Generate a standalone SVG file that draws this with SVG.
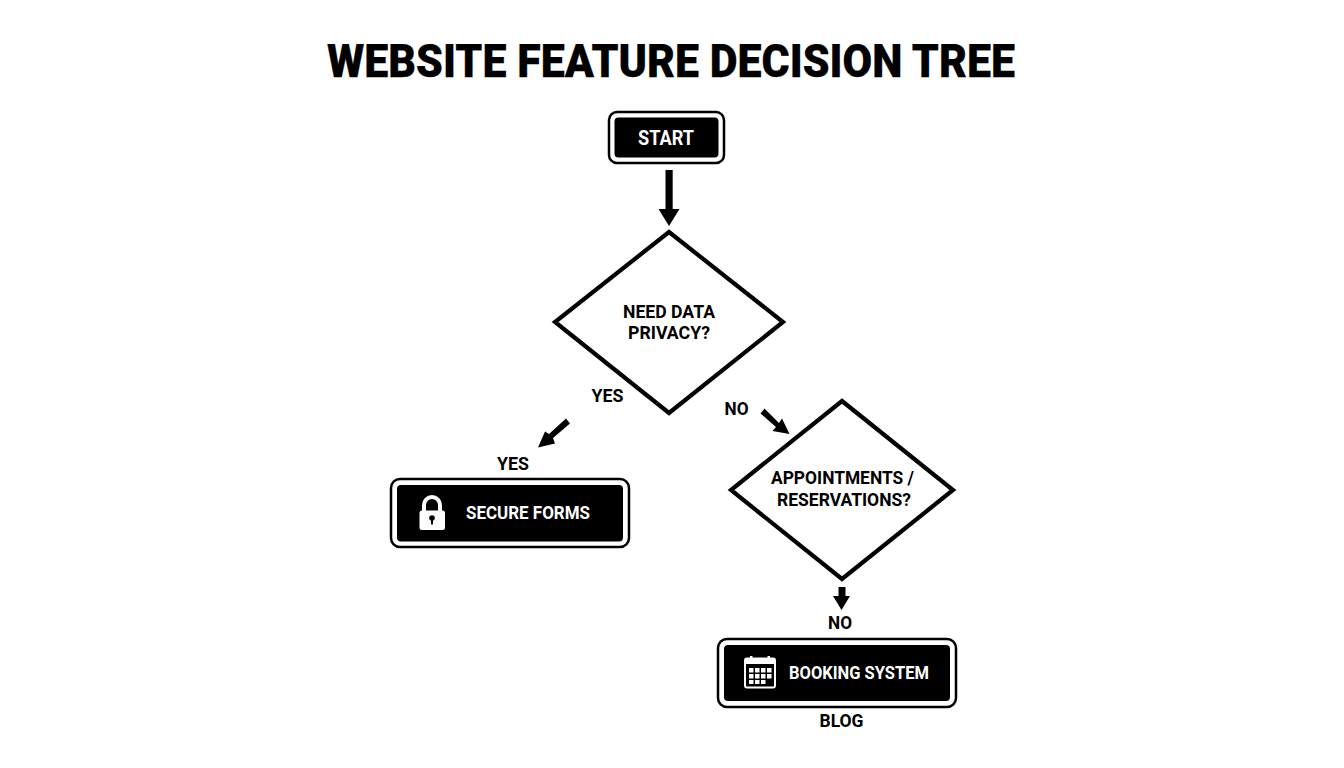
<svg xmlns="http://www.w3.org/2000/svg" width="1344" height="768" viewBox="0 0 1344 768">
<style>
text{font-family:Roboto,"Liberation Sans",sans-serif;font-weight:700;text-anchor:middle;fill:#000}
.t{font-size:46px;font-weight:900;stroke:#000;stroke-width:.25px}
.l{font-size:18.500px}
.w{fill:#fff;font-size:19px}
.o{fill:#fff;stroke:#000;stroke-width:2.500}
.d{fill:#fff;stroke:#000;stroke-width:4.200;stroke-linejoin:miter}
.c{fill:#000}
</style>
<rect width="1344" height="768" fill="#fff"/>
<text class="t" x="671" y="76.500" textLength="688" lengthAdjust="spacingAndGlyphs">WEBSITE FEATURE DECISION TREE</text>
<g id="connectors">
<path class="c" d="M665.500 170H672.700V209H679.500L669 226L658.500 209H665.500Z"/>
<path class="c" d="M566 418.500L570 423.500L553 438L555 443.500L538 447.500L545 431.500L549 434Z"/>
<path class="c" d="M764.500 408.500L760.500 413.500L776 427L772.500 431L789.500 434L782 418.500L779 423Z"/>
<path class="c" d="M838.500 587H845.500V596H850L841.500 610L833 596H838.500Z"/>
</g>
<g id="start">
<rect class="o" x="609" y="112" width="115" height="51" rx="8"/>
<rect x="614.500" y="117.500" width="104" height="40" rx="4"/>
<text class="w" x="666" y="144.500" style="font-size:20.500px" textLength="56" lengthAdjust="spacingAndGlyphs">START</text>
</g>
<g id="privacy">
<path class="d" d="M669 232L783 322L669 413L555 322Z"/>
<text class="l" x="669" y="317.800" textLength="92" lengthAdjust="spacingAndGlyphs">NEED DATA</text>
<text class="l" x="669" y="338.800" textLength="82" lengthAdjust="spacingAndGlyphs">PRIVACY?</text>
</g>
<g id="appointments">
<path class="d" d="M842 401L953 490L842 579L731 490Z"/>
<text class="l" x="842.500" y="483.800" textLength="143" lengthAdjust="spacingAndGlyphs">APPOINTMENTS /</text>
<text class="l" x="844" y="505.800" textLength="134" lengthAdjust="spacingAndGlyphs">RESERVATIONS?</text>
</g>
<g id="secure">
<rect class="o" x="391" y="479" width="238" height="68" rx="9"/>
<rect x="397" y="485" width="226" height="56.500" rx="4"/>
<path d="M424 511V505a8 8 0 0 1 16 0V511" fill="none" stroke="#fff" stroke-width="4"/>
<rect x="419.500" y="510.500" width="25.500" height="19.500" rx="2.500" fill="#fff"/>
<circle cx="432" cy="518" r="2.800" fill="#000"/>
<rect x="431" y="518" width="2" height="6.500" fill="#000"/>
<text class="w" x="528" y="518.800" textLength="124" lengthAdjust="spacingAndGlyphs">SECURE FORMS</text>
</g>
<g id="booking">
<rect class="o" x="718" y="639" width="238" height="68" rx="9"/>
<rect x="724" y="645" width="226" height="56" rx="4"/>
<rect x="745" y="658.500" width="30" height="29" rx="2" fill="none" stroke="#fff" stroke-width="2"/>
<rect x="745" y="658" width="30" height="6" fill="#fff"/>
<rect x="750" y="656" width="2.500" height="5" fill="#fff"/><rect x="767.500" y="656" width="2.500" height="5" fill="#fff"/>
<path d="M749 668h4.500v4.500h-4.500zM755 668h4.500v4.500h-4.500zM761 668h4.500v4.500h-4.500zM767 668h4.500v4.500h-4.500zM749 674h4.500v4.500h-4.500zM755 674h4.500v4.500h-4.500zM761 674h4.500v4.500h-4.500zM767 674h4.500v4.500h-4.500zM749 680h4.500v4h-4.500zM755 680h4.500v4h-4.500zM761 680h4.500v4h-4.500z" fill="#fff"/>
<text class="w" x="859" y="678.800" textLength="140" lengthAdjust="spacingAndGlyphs">BOOKING SYSTEM</text>
</g>
<g id="labels">
<text class="l" x="607.500" y="402.300" textLength="32" lengthAdjust="spacingAndGlyphs">YES</text>
<text class="l" x="736.500" y="414.500" textLength="24" lengthAdjust="spacingAndGlyphs">NO</text>
<text class="l" x="513" y="470.300" textLength="32" lengthAdjust="spacingAndGlyphs">YES</text>
<text class="l" x="840" y="629.300" textLength="24" lengthAdjust="spacingAndGlyphs">NO</text>
<text class="l" x="841.500" y="726.800" textLength="44" lengthAdjust="spacingAndGlyphs">BLOG</text>
</g>
</svg>
